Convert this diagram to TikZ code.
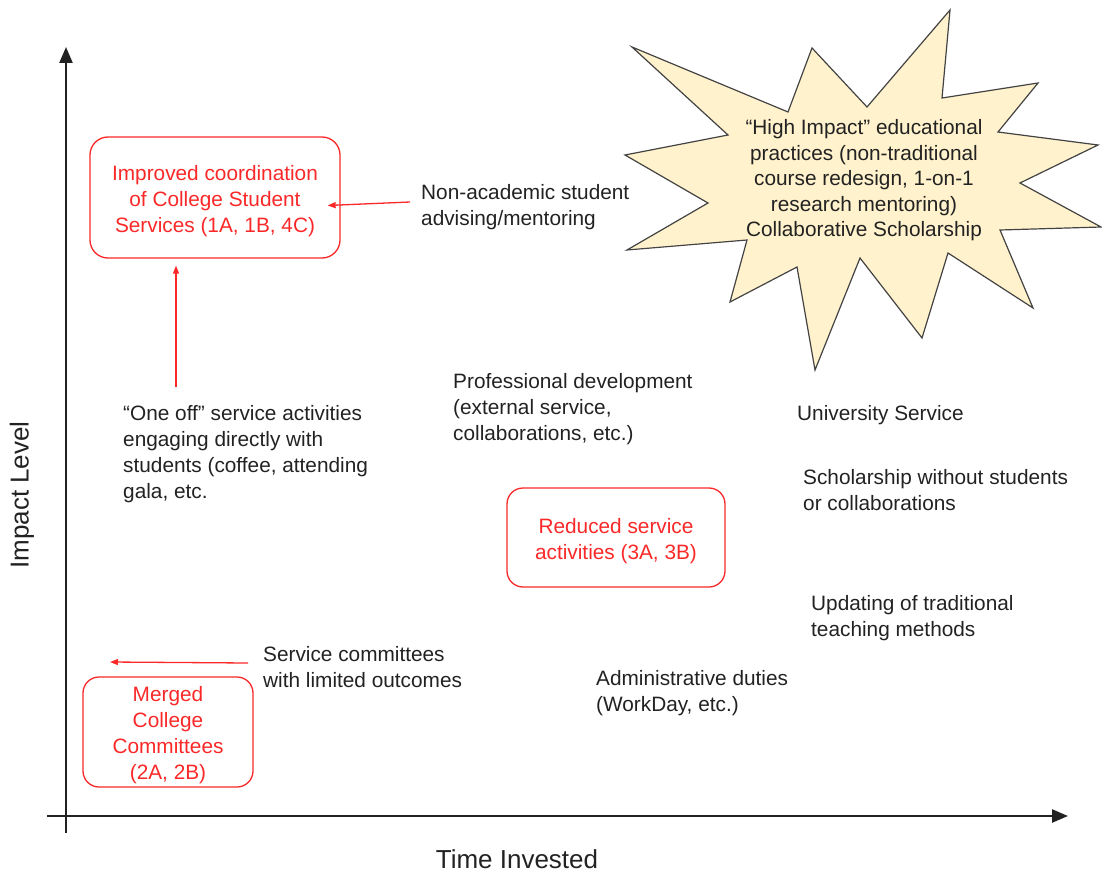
\documentclass[tikz,border=0pt]{standalone}
\usepackage{fontspec}
\setmainfont{Liberation Sans}
\usetikzlibrary{arrows.meta,calc}
\definecolor{txt}{RGB}{34,34,34}
\definecolor{boxred}{RGB}{250,40,40}
\definecolor{starfill}{RGB}{255,242,204}
\definecolor{starline}{RGB}{67,67,67}
\newcommand{\boxlift}{\rule{0pt}{22pt}}
\begin{document}
\begin{tikzpicture}[x=1pt,y=-1pt,
  lbl/.style={text=txt,align=left,anchor=west,inner sep=0pt,yshift=-2.5pt,font=\fontsize{20.8}{26}\selectfont},
  redbox/.style={draw=boxred,line width=1.3pt,rounded corners=18pt,text=boxred,align=center,inner sep=0pt,font=\fontsize{20.8}{26}\selectfont},
  redarr/.style={draw=boxred,line width=1.3pt,-{Triangle[length=8pt,width=6pt]}},
  axis/.style={draw=txt,line width=2.4pt,-{Triangle[length=16pt,width=13pt]}},
  axlbl/.style={text=txt,inner sep=0pt,font=\fontsize{26}{30}\selectfont}]
\useasboundingbox (0,0) rectangle (1102,874);
% axes
\coordinate (ytop) at (66,47);
\coordinate (ybot) at (66,833);
\coordinate (xleft) at (47,816);
\coordinate (xright) at (1068,816);
\draw[axis] (ybot) -- (ytop);
\draw[axis] (xleft) -- (xright);
\node[axlbl,rotate=90] (ylab) at (22,495) {Impact Level};
\node[axlbl] (xlab) at (517,859.5) {Time Invested};
% star
\filldraw[fill=starfill,draw=starline,line width=1.2pt,line join=miter]
  (632,47) -- (788,112) -- (812,48) -- (867,107) -- (950,10) -- (942,98)
  -- (1038,83) -- (998,132) -- (1098,145) -- (1020,183) -- (1101,227)
  -- (1000,230) -- (1033,308) -- (948,253) -- (922,338) -- (860,258)
  -- (815,370) -- (797,267) -- (730,302) -- (747,240) -- (627,250)
  -- (708,203) -- (625,155) -- (728,135) -- cycle;
\node[text=txt,align=center,inner sep=0pt,font=\fontsize{20.8}{25.5}\selectfont] (star) at (864,180.5)
  {``High Impact'' educational\\practices (non-traditional\\course redesign, 1-on-1\\research mentoring)\\Collaborative Scholarship};
% red boxes
\node[redbox,minimum width=250pt,minimum height=121pt] (box1) at (215,197.5)
  {\boxlift Improved coordination\\of College Student\\Services (1A, 1B, 4C)};
\node[redbox,rounded corners=16pt,minimum width=218pt,minimum height=99pt] (box2) at (616,537.5)
  {\boxlift Reduced service\\activities (3A, 3B)};
\node[redbox,rounded corners=16pt,minimum width=170pt,minimum height=110pt] (box3) at (168,732)
  {\boxlift Merged\\College\\Committees\\(2A, 2B)};
% labels
\node[lbl] (nonacad) at (421,205) {Non-academic student\\advising/mentoring};
\node[lbl] (oneoff) at (123,451.5) {``One off'' service activities\\engaging directly with\\students (coffee, attending\\gala, etc.};
\node[lbl] (profdev) at (453,407) {Professional development\\(external service,\\collaborations, etc.)};
\node[lbl] (univ) at (797,413) {University Service};
\node[lbl] (scholar) at (803,487.5) {Scholarship without students\\or collaborations};
\node[lbl] (updating) at (811,615.5) {Updating of traditional\\teaching methods};
\node[lbl] (admin) at (596,691) {Administrative duties\\(WorkDay, etc.)};
\node[lbl] (servcomm) at (263,665) {Service committees\\with limited outcomes};
% red arrows
\draw[redarr] ($(nonacad.west)+(-11,-5.5)$) -- ($(box1.east)+(-13,8)$);
\coordinate (t1) at (176,387);
\draw[redarr] (t1) -- ([yshift=-7pt]t1 |- box1.south);
\coordinate (t2) at (110,662);
\draw[redarr] ($(servcomm.west)+(-15,-4.5)$) -- (t2);
\end{tikzpicture}
\end{document}
